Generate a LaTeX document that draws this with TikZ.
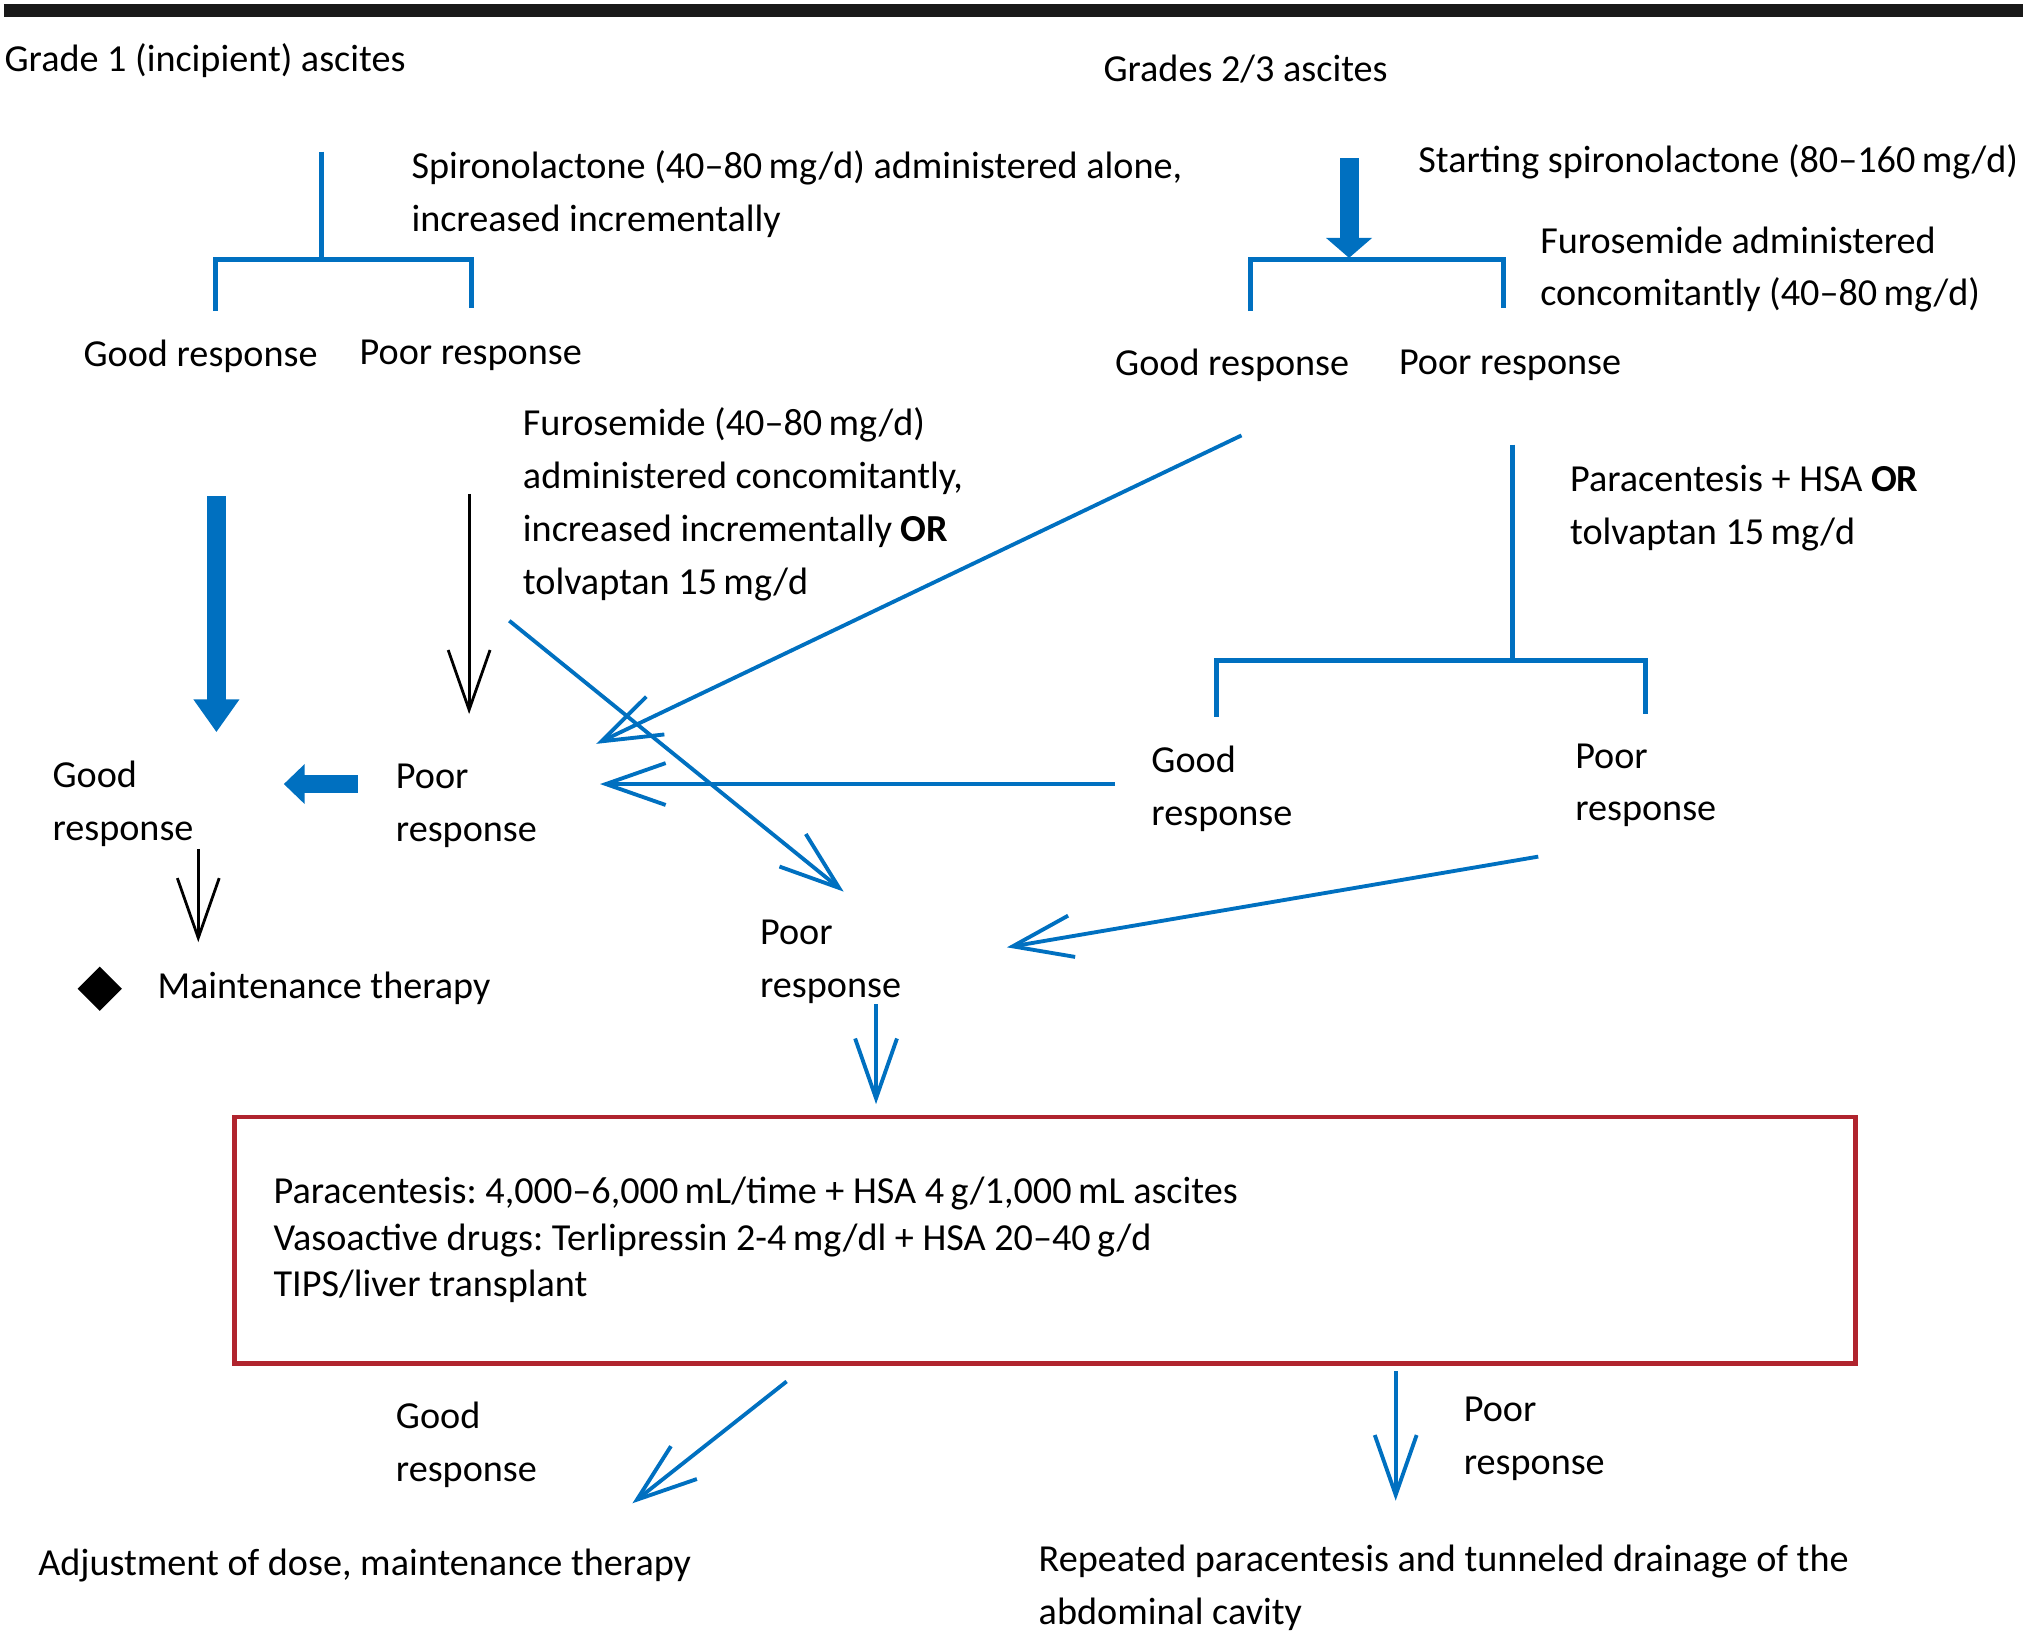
\documentclass[tikz,border=0pt]{standalone}
\usepackage{fontspec}
\setmainfont{Carlito}
\usetikzlibrary{arrows.meta, shapes.geometric}
\definecolor{flowblue}{HTML}{0070C0}
\definecolor{boxred}{RGB}{176,36,46}

\begin{document}
\begin{tikzpicture}[
		x=0.013cm, y=-0.013cm,
		font=\fontsize{10.9}{15.1}\selectfont,
		txt/.style={anchor=west, inner sep=0pt, align=left},
		brk/.style={draw=flowblue, line width=1.4pt},
		barb/.style={-{Straight Barb[length=6mm, width=4.2mm]}, draw=flowblue, line width=1.1pt},
		kbarb/.style={-{Straight Barb[length=6mm, width=4.2mm]}, draw=black, line width=0.8pt},
		fat/.style={-{Triangle[length=3.3mm, width=4.4mm]}, draw=flowblue, fill=flowblue, line width=1.9mm},
		redbox/.style={draw=boxred, line width=1.3pt, minimum width=16.26cm, minimum height=2.47cm, text width=15.48cm, inner xsep=0.39cm, align=left, font=\fontsize{10.9}{13.3}\selectfont}
		]
		\useasboundingbox (0,0) rectangle (1568,1267);
		
		\draw[line width=3.6pt, black!90] (3,8) -- (1561,8);
		
		% grade 1 side
		\node[txt] (grade1) at (3,47) {Grade 1 (incipient) ascites};
		\node[txt] (spiro1) at (317,150) {Spironolactone (40--80\,mg/d) administered alone,\\increased incrementally};
		\node[txt] (good1) at (64,275) {Good response};
		\node[txt] (poor1) at (277,274) {Poor response};
		\node[txt] (furo1) at (403,389) {Furosemide (40--80\,mg/d)\\administered concomitantly,\\increased incrementally \textbf{OR}\\tolvaptan 15\,mg/d};
		\node[txt] (good4) at (40,620) {Good\\response};
		\node[txt] (poor4) at (305,622) {Poor\\response};
		\node[diamond, fill=black, inner sep=0pt, minimum width=4.5mm, minimum height=4.5mm] (dia) at (77,763) {};
		\node[txt] (maint) at (121,763) {Maintenance therapy};
		
		% grades 2/3 side
		\node[txt] (grade23) at (851,53) {Grades 2/3 ascites};
		\node[txt] (spiro2) at (1094,125) {Starting spironolactone (80--160\,mg/d)};
		\node[txt] (furo2) at (1188,208) {Furosemide administered\\concomitantly (40--80\,mg/d)};
		\node[txt] (good2) at (860,282) {Good response};
		\node[txt] (poor2) at (1079,282) {Poor response};
		\node[txt] (para1) at (1211,392) {Paracentesis + HSA \textbf{OR}\\tolvaptan 15\,mg/d};
		\node[txt] (good3) at (888,609) {Good\\response};
		\node[txt] (poor3) at (1215,606) {Poor\\response};
		\node[txt] (poor5) at (586,742) {Poor\\response};
		
		% refractory
		\node[redbox] (treat) at (806.5,957) {\spaceskip=0pt \xspaceskip=0pt \frenchspacing
			Paracentesis: 4,000--6,000\,mL/time + HSA 4\,g/1,000\,mL ascites\\Vasoactive drugs: Terlipressin 2-4\,mg/dl + HSA 20--40\,g/d\\TIPS/liver transplant};
		\node[txt] (goodb) at (305,1115) {Good\\response};
		\node[txt] (poorb) at (1129,1110) {Poor\\response};
		\node[txt] (adjust) at (29,1208) {Adjustment of dose, maintenance therapy};
		\node[txt] (repeat) at (801,1225) {Repeated paracentesis and tunneled drainage of the\\abdominal cavity};
		
		% brackets
		\coordinate (b1top) at (248,117);
		\coordinate (b1mid) at (248,200);
		\coordinate (b1l) at (166,240);
		\coordinate (b1r) at (364,238);
		\coordinate (b2l) at (965,240);
		\coordinate (b2r) at (1160,238);
		\coordinate (b3top) at (1167,343);
		\coordinate (b3mid) at (1167,510);
		\coordinate (b3l) at (939,553);
		\coordinate (b3r) at (1270,551);
		\draw[brk] (b1top) -- (b1mid);
		\draw[brk] (b1l) |- (b1mid) -| (b1r);
		\draw[brk] (b2l) |- (1041,200) -| (b2r);
		\draw[brk] (b3top) -- (b3mid);
		\draw[brk] (b3l) |- (b3mid) -| (b3r);
		
		% arrows
		\coordinate (s2top) at (1041,122);
		\coordinate (s2tip) at (1041,199);
		\coordinate (g1out) at (167,383);
		\coordinate (g4in) at (167,565);
		\coordinate (p1out) at (362,381);
		\coordinate (p4in) at (362,551);
		\coordinate (p4out) at (276,605);
		\coordinate (g4in2) at (219,605);
		\coordinate (g2out) at (958,336);
		\coordinate (p4in2) at (460,574);
		\coordinate (f1out) at (393,479);
		\coordinate (p5in) at (651,688);
		\coordinate (g3out) at (860,605);
		\coordinate (p4in3) at (463,605);
		\coordinate (p3out) at (1187,661);
		\coordinate (p5in2) at (777,731);
		\coordinate (g4out) at (153,655);
		\coordinate (mtin) at (153,727);
		\coordinate (p5out) at (676,775);
		\coordinate (boxin) at (676,852);
		\coordinate (boxgood) at (607,1066);
		\coordinate (adjin) at (488,1160);
		\coordinate (boxpoor) at (1077,1058);
		\coordinate (repin) at (1077,1158);
		
		\draw[fat, -{Triangle[length=2mm, width=4.5mm]}] (s2top) -- (s2tip);
		\draw[fat] (g1out) -- (g4in);
		\draw[fat, line width=1.8mm, -{Triangle[length=2.1mm, width=3.9mm]}] (p4out) -- (g4in2);
		\draw[kbarb] (p1out) -- (p4in);
		\draw[kbarb] (g4out) -- (mtin);
		\draw[barb] (g2out) -- (p4in2);
		\draw[barb] (f1out) -- (p5in);
		\draw[barb] (g3out) -- (p4in3);
		\draw[barb] (p3out) -- (p5in2);
		\draw[barb] (p5out) -- (boxin);
		\draw[barb] (boxgood) -- (adjin);
		\draw[barb] (boxpoor) -- (repin);
		
	\end{tikzpicture}
\end{document}
